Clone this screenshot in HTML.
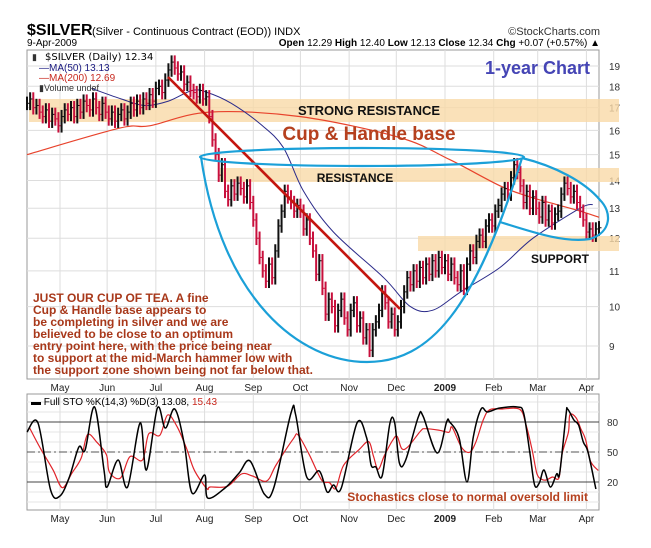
<!DOCTYPE html>
<html><head><meta charset="utf-8">
<style>
html,body{margin:0;padding:0;background:#fff;}
svg{display:block;font-family:"Liberation Sans",Arial,sans-serif;}
</style></head>
<body>
<svg id="chart" width="651" height="548" viewBox="0 0 651 548" xmlns="http://www.w3.org/2000/svg">
  <text x="27" y="35" font-size="16" font-weight="bold" fill="#000">$SILVER</text>
  <text x="92" y="35" font-size="11" fill="#000">(Silver - Continuous Contract (EOD)) INDX</text>
  <text x="600" y="35" font-size="11" fill="#333" text-anchor="end">©StockCharts.com</text>
  <text x="27" y="46" font-size="10" fill="#000">9-Apr-2009</text>
  <text x="600" y="46" font-size="10" fill="#000" text-anchor="end"><tspan font-weight="bold">Open</tspan> 12.29 <tspan font-weight="bold">High</tspan> 12.40 <tspan font-weight="bold">Low</tspan> 12.13 <tspan font-weight="bold">Close</tspan> 12.34 <tspan font-weight="bold">Chg</tspan> +0.07 (+0.57%) ▲</text>

  <g id="main"></g>
  <g id="sto"></g>
</svg>
<script>
const priceDays = [0,2,4,6,8,10,12,14,16,18,20,22,24,26,28,30,32,34,36,38,40,42,44,46,48,50,52,54,56,58,60,62,64,66,68,70,72,74,76,78,80,82,84,86,88,90,92,94,96,98,100,102,104,106,108,110,112,114,116,118,120,122,124,126,128,130,132,134,136,138,140,142,144,146,148,150,152,154,156,158,160,162,164,166,168,170,172,174,176,178,180,182,184,186,188,190,192,194,196,198,200,202,204,206,208,210,212,214,216,218,220,222,224,226,228,230,232,234,236,238,240,242,244,246,248,250,252,254,256,258,260,262,264,266,268,270,272,274,276,278,280,282,284,286,288,290,292,294,296,298,300,302,304,306,308,310,312,314,316,318,320,322,324,326,328,330,332,334,336,338,340,342,344,346,348,350,352,354,356,358,360,362,364];
const priceCloses = [17.2,17.4,17.0,17.1,16.8,16.6,16.9,16.4,16.7,16.5,16.2,16.6,16.9,16.7,17.0,16.6,17.1,16.8,17.3,17.1,16.9,17.4,17.0,16.7,17.2,16.8,16.5,16.8,16.4,16.7,16.9,16.5,16.8,17.2,16.9,17.3,17.0,17.4,17.2,17.6,17.3,17.9,18.0,17.7,18.3,18.8,19.2,18.9,18.6,18.7,18.1,18.2,17.8,17.7,17.5,17.8,17.4,17.5,16.6,15.6,15.0,14.2,14.6,13.6,13.3,13.8,13.5,13.9,13.7,13.4,13.8,13.2,12.6,12.0,11.4,11.0,10.7,11.2,10.8,11.6,12.4,12.9,13.6,13.4,13.2,12.9,13.1,12.9,12.3,12.6,12.0,11.6,10.9,11.3,10.5,9.8,10.2,10.0,9.5,9.9,10.2,9.7,9.4,9.9,10.1,9.5,9.7,9.2,9.4,8.9,9.4,9.6,9.9,10.4,10.1,9.6,9.8,9.4,9.6,10.0,10.4,10.8,10.6,11.0,10.7,11.1,10.8,11.2,10.9,11.3,11.0,11.4,11.1,11.3,10.9,11.2,10.8,10.6,11.0,10.5,11.2,11.6,11.4,11.9,12.1,11.9,12.4,12.6,12.4,12.9,13.1,13.5,13.7,13.5,14.1,14.6,14.3,13.8,13.2,13.6,13.0,13.4,13.0,12.7,13.2,12.6,12.9,12.5,12.8,12.9,13.5,13.9,13.7,13.4,13.6,13.2,12.9,12.6,12.2,12.3,12.1,12.3,12.34];
const ma50Days = [41,60,75,90,105,115,130,148,163,176,195,227,244,258,276,301,322,352,360];
const ma50Vals = [17.9,17.4,17.1,17.3,17.8,17.7,17.2,16.3,15.3,13.6,12.2,10.8,10.0,9.9,10.4,11.1,12.0,13.0,13.13];
const ma200Days = [0,59,78,116,174,237,269,301,320,339,352,364];
const ma200Vals = [15.0,16.1,16.2,16.8,16.6,15.7,14.8,13.8,13.4,13.1,12.9,12.69];
const priceTicks = [9,10,11,12,13,14,15,16,17,18,19];
const monthLabels = ["May","Jun","Jul","Aug","Sep","Oct","Nov","Dec","2009","Feb","Mar","Apr"];
const monthDays = [21,51,82,113,144,174,205,235,266,297,325,356];
const stoDays = [0,7,15,21,27,33,37,43,49,51,58,64,72,76,83,88,94,100,105,113,115,126,135,142,151,157,168,171,178,186,191,195,200,210,216,219,222,226,231,234,237,241,249,252,261,267,269,275,280,284,289,293,301,312,316,320,323,326,329,333,337,339,343,344,348,351,354,357,362];
const stoK = [70,79,12,6,25,55,52,95,32,15,42,15,79,32,94,74,93,59,9,27,4,14,29,41,8,14,89,87,25,31,10,17,14,79,65,37,35,26,79,79,39,42,85,86,49,80,80,64,20,65,93,90,94,95,89,49,17,19,32,15,28,29,87,93,82,77,60,50,13];
const stoTicks = [20,50,80];

const NS="http://www.w3.org/2000/svg";
function mk(parent,tag,attrs){const e=document.createElementNS(NS,tag);for(const k in attrs)e.setAttribute(k,attrs[k]);parent.appendChild(e);return e;}
const L=27,R=599;
const xOf=d=>L+d*(R-L)/364;
const yP=p=>66+374.8*(Math.log(19)-Math.log(p));
const yS=v=>502-v;
function smooth(pts){
  let s='M'+pts[0][0].toFixed(1)+','+pts[0][1].toFixed(1);
  for(let i=0;i<pts.length-1;i++){
    const p0=pts[Math.max(0,i-1)],p1=pts[i],p2=pts[i+1],p3=pts[Math.min(pts.length-1,i+2)];
    const c1=[p1[0]+(p2[0]-p0[0])/6,p1[1]+(p2[1]-p0[1])/6];
    const c2=[p2[0]-(p3[0]-p1[0])/6,p2[1]-(p3[1]-p1[1])/6];
    s+=' C'+c1[0].toFixed(1)+','+c1[1].toFixed(1)+' '+c2[0].toFixed(1)+','+c2[1].toFixed(1)+' '+p2[0].toFixed(1)+','+p2[1].toFixed(1);
  }
  return s;
}

const main=document.getElementById('main');
const sto=document.getElementById('sto');

let fr=mk(main,'rect',{x:L,y:50,width:R-L,height:329,fill:'#fff',stroke:'#999'});


monthDays.forEach((d,i)=>{
  let g=mk(main,'line',{x1:xOf(d),x2:xOf(d),y1:50,y2:379,stroke:'#ddd'});
  
  
  let t=mk(main,'text',{x:xOf(d),y:391,'font-size':10,'text-anchor':'middle',fill:'#222','font-weight':i===8?'bold':'normal'});
  t.textContent=monthLabels[i];
  
  
});
priceTicks.forEach(p=>{
  let g=mk(main,'line',{x1:L,x2:R,y1:yP(p),y2:yP(p),stroke:'#ddd'});
  
  
  let t=mk(main,'text',{x:609,y:yP(p)+4,'font-size':10,fill:'#333'});
  t.textContent=p;
  
  
});
let b1=mk(main,'rect',{x:L+2,y:99,width:590,height:23,fill:'#f9d9a8',opacity:0.8});


let b2=mk(main,'rect',{x:220,y:168,width:399,height:14,fill:'#f9d9a8',opacity:0.8});


let b3=mk(main,'rect',{x:418,y:236,width:201,height:15,fill:'#f9d9a8',opacity:0.8});



let m200=mk(main,'path',{d:smooth(ma200Days.map((d,i)=>[xOf(d),yP(ma200Vals[i])])),fill:'none',stroke:'#e8432c','stroke-width':1.2});


let m50=mk(main,'path',{d:smooth(ma50Days.map((d,i)=>[xOf(d),yP(ma50Vals[i])])),fill:'none',stroke:'#2b2b8a','stroke-width':1});



priceCloses.forEach((c,i)=>{
  const prev=i?priceCloses[i-1]:c;
  const hi=Math.max(prev,c)*1.018, lo=Math.min(prev,c)*0.982;
  const x=xOf(priceDays[i]);
  const col=c<prev?'#c8103c':'#111';
  let b=mk(main,'line',{x1:x,x2:x,y1:yP(hi),y2:yP(lo),stroke:col,'stroke-width':2});
  
  
  let t=mk(main,'line',{x1:x,x2:x+2.5,y1:yP(c),y2:yP(c),stroke:col,'stroke-width':1});
  
  
});

let tl=mk(main,'line',{x1:168,y1:77,x2:400,y2:309,stroke:'#c4160f','stroke-width':2.6});


let cup=mk(main,'path',{d:'M201,157 C222,300 300,362 367,362 C430,362 475,310 522,158',fill:'none',stroke:'#1ba0d8','stroke-width':2.2});


let rim=mk(main,'ellipse',{cx:362,cy:157,rx:162,ry:9,fill:'none',stroke:'#1ba0d8','stroke-width':2.2});


let hnd=mk(main,'path',{d:'M500,222 C535,233 565,243 590,239 C612,232 612,212 600,200 C585,182 555,166 522,158',fill:'none',stroke:'#1ba0d8','stroke-width':2.2});



// stochastic panel
let sfr=mk(sto,'rect',{x:L,y:394,width:R-L,height:116,fill:'#fff',stroke:'#999'});


for(let v=0;v<=100;v+=10){
  let g=mk(sto,'line',{x1:L,x2:R,y1:yS(v),y2:yS(v),stroke:'#e6e6e6'});
  
  
}
monthDays.forEach((d,i)=>{
  let g=mk(sto,'line',{x1:xOf(d),x2:xOf(d),y1:394,y2:510,stroke:'#ddd'});
  
  
  let t=mk(sto,'text',{x:xOf(d),y:522,'font-size':10,'text-anchor':'middle',fill:'#222','font-weight':i===8?'bold':'normal'});
  t.textContent=monthLabels[i];
  
  
});
stoTicks.forEach(v=>{
  let g=mk(sto,'line',{x1:L,x2:R,y1:yS(v),y2:yS(v),stroke:v===50?'#555':'#444','stroke-dasharray':v===50?'8,3,2,3':'none'});
  
  
  let t=mk(sto,'text',{x:607,y:yS(v)+4,'font-size':10,fill:'#333'});
  t.textContent=v;
  
  
});
const dVals=stoK.map((v,i)=>{const a=stoK.slice(Math.max(0,i-1),i+2);return a.reduce((s,x)=>s+x,0)/a.length;});
let dl=mk(sto,'path',{d:smooth(stoDays.map((d,i)=>[xOf(d+1.5),yS(dVals[i])])),fill:'none',stroke:'#e0242a','stroke-width':1.2});


let kl=mk(sto,'path',{d:smooth(stoDays.map((d,i)=>[xOf(d),yS(stoK[i])])),fill:'none',stroke:'#000','stroke-width':1.5});


let lg=mk(sto,'text',{x:31,y:405,'font-size':10,fill:'#000'});
lg.innerHTML='<tspan font-weight="bold">▬</tspan> Full STO %K(14,3) %D(3) 13.08, <tspan fill="#c8281e">15.43</tspan>';


let note=mk(sto,'text',{x:588,y:501,'font-size':12,'font-weight':'bold','text-anchor':'end',fill:'#b5401e'});
note.textContent='Stochastics close to normal oversold limit';



// text annotations and legend
function txt(x,y,s,attrs){const e=document.createElementNS(NS,'text');e.setAttribute('x',x);e.setAttribute('y',y);for(const k in attrs)e.setAttribute(k,attrs[k]);e.textContent=s;main.appendChild(e);return e;}
let a1=txt(369,115,'STRONG RESISTANCE',{'font-size':13,'font-weight':'bold','text-anchor':'middle',fill:'#111'});


let a2=txt(369,140,'Cup & Handle base',{'font-size':19,'font-weight':'bold','text-anchor':'middle',fill:'#b5401e'});


let a3=txt(355,182,'RESISTANCE',{'font-size':12,'font-weight':'bold','text-anchor':'middle',fill:'#111'});


let a4=txt(560,263,'SUPPORT',{'font-size':12,'font-weight':'bold','text-anchor':'middle',fill:'#111'});


let a5=txt(590,74,'1-year Chart',{'font-size':18,'font-weight':'bold','text-anchor':'end',fill:'#4545b5'});


const lines=['JUST OUR CUP OF TEA. A fine','Cup & Handle base appears to','be completing in silver and we are','believed to be close to an optimum','entry point here, with the price being near','to support at the mid-March hammer low with','the support zone shown being not far below that.'];
lines.forEach((s,i)=>{
  let e=txt(33,302+i*12,s,{'font-size':12,'font-weight':'bold',fill:'#a8381a'});
  
  
});
let l1=txt(45,60,'$SILVER (Daily) 12.34',{'font-size':10,'font-family':'"DejaVu Sans",sans-serif',fill:'#000'});


let l2=txt(39,71,'—MA(50) 13.13',{'font-size':10,fill:'#1a1a80'});


let l3=txt(39,81,'—MA(200) 12.69',{'font-size':10,fill:'#c8281e'});


let l4=txt(39,91,'▮Volume undef',{'font-size':9,fill:'#333'});


let l5=txt(32,60,'▮',{'font-size':9,fill:'#333'});


</script>
</body></html>
